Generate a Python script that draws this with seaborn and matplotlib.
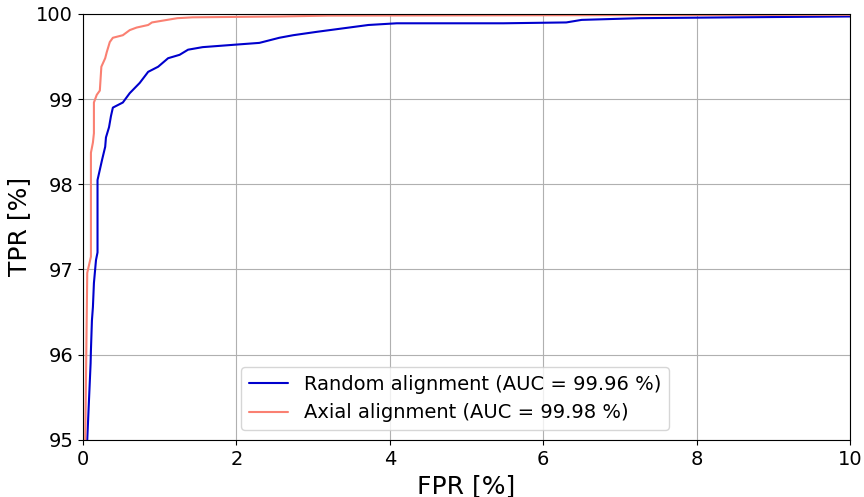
import numpy as np
import pandas as pd
import matplotlib
matplotlib.use("Agg")
import matplotlib.pyplot as plt
import seaborn as sns

# ROC points (FPR %, TPR %)
fpr_random = [0.0, 0.056, 0.10, 0.104, 0.117, 0.13, 0.143, 0.17, 0.19, 0.19, 0.21, 0.25,
              0.29, 0.30, 0.34, 0.365, 0.39, 0.52, 0.61, 0.74, 0.85, 0.98, 1.11, 1.26,
              1.37, 1.56, 2.0, 2.3, 2.56, 2.74, 3.05, 3.72, 4.09, 5.48, 6.3, 6.5,
              7.26, 8.5, 10.0]
tpr_random = [94.5, 95.0, 95.9, 96.05, 96.4, 96.56, 96.84, 97.11, 97.2, 98.05, 98.13, 98.29,
              98.44, 98.55, 98.67, 98.8, 98.9, 98.96, 99.07, 99.19, 99.32, 99.38, 99.48, 99.52,
              99.58, 99.61, 99.64, 99.66, 99.72, 99.75, 99.79, 99.87, 99.89, 99.89, 99.90, 99.93,
              99.95, 99.96, 99.97]

fpr_axial = [0.0, 0.03, 0.05, 0.056, 0.104, 0.104, 0.13, 0.143, 0.143, 0.18, 0.22, 0.24,
             0.29, 0.31, 0.35, 0.39, 0.52, 0.61, 0.70, 0.85, 0.90, 1.23, 1.43, 2.57,
             3.2, 10.0]
tpr_axial = [94.5, 95.0, 96.5, 96.96, 97.15, 98.37, 98.49, 98.6, 98.96, 99.05, 99.1, 99.38,
             99.48, 99.55, 99.67, 99.72, 99.75, 99.81, 99.84, 99.87, 99.9, 99.95, 99.96, 99.97,
             99.98, 99.99]

labels = ["Random alignment (AUC = 99.96 %)", "Axial alignment (AUC = 99.98 %)"]

df = pd.concat([
    pd.DataFrame({"FPR": fpr_random, "TPR": tpr_random, "model": labels[0]}),
    pd.DataFrame({"FPR": fpr_axial, "TPR": tpr_axial, "model": labels[1]}),
])

sns.set_style("ticks", rc={"text.color": "black", "axes.labelcolor": "black",
                           "xtick.color": "black", "ytick.color": "black",
                           "axes.edgecolor": "black"})
fig, ax = plt.subplots(figsize=(8.64, 4.97), dpi=100)
sns.lineplot(data=df, x="FPR", y="TPR", hue="model", sort=False, estimator=None,
             palette=["mediumblue", "salmon"], linewidth=1.5, ax=ax)

ax.set_xlim(0, 10)
ax.set_ylim(95, 100)
ax.set_xticks([0, 2, 4, 6, 8, 10])
ax.set_yticks([95, 96, 97, 98, 99, 100])
ax.tick_params(labelsize=14)
ax.grid(True, color="#b0b0b0", linewidth=0.8)
ax.set_xlabel("FPR [%]", fontsize=18)
ax.set_ylabel("TPR [%]", fontsize=18)
for s in ax.spines.values():
    s.set_visible(True)
    s.set_color("black")

leg = ax.legend(title=None, fontsize=14, loc="lower center", bbox_to_anchor=(0.485, 0.0))
plt.subplots_adjust(left=0.096, right=0.984, top=0.972, bottom=0.115)
fig.savefig("out.png", dpi=100)
